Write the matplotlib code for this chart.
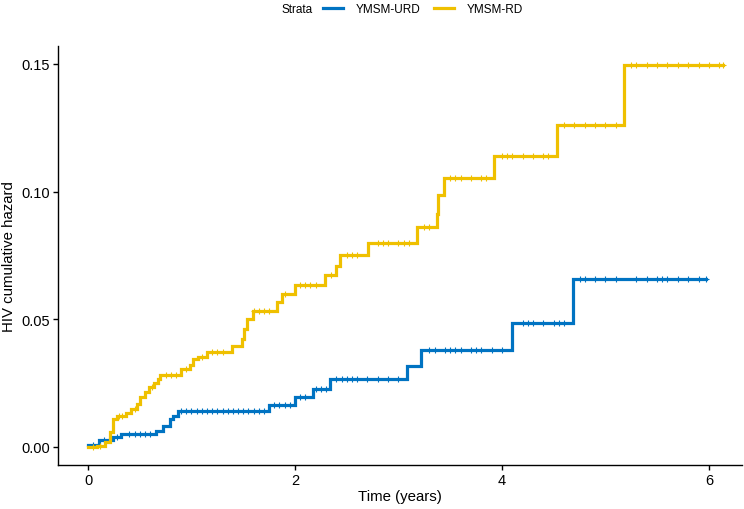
import numpy as np
import matplotlib
matplotlib.use("Agg")
import matplotlib.pyplot as plt
from matplotlib.lines import Line2D

plt.rcParams["font.family"] = ["Liberation Sans", "DejaVu Sans"]

# %% Data: step times (years) and cumulative hazard
urd_time = [0.0, 0.11, 0.24, 0.32, 0.66, 0.72, 0.79, 0.82, 0.87, 1.75, 2.00,
            2.17, 2.34, 3.08, 3.22, 4.10, 4.69]
urd_haz = [0.0008, 0.0027, 0.0039, 0.0051, 0.0063, 0.0082, 0.0110, 0.0121, 0.0141,
           0.0165, 0.0196, 0.0227, 0.0266, 0.0317, 0.0380, 0.0486, 0.0657]
urd_end = 5.97

rd_time = [0.0, 0.09, 0.16, 0.21, 0.24, 0.28, 0.37, 0.42, 0.47, 0.50, 0.55, 0.59,
           0.64, 0.68, 0.70, 0.90, 0.99, 1.01, 1.06, 1.15, 1.39, 1.49, 1.51, 1.54,
           1.59, 1.83, 1.87, 2.00, 2.29, 2.40, 2.44, 2.71, 3.18, 3.37, 3.38, 3.44,
           3.92, 4.53, 5.18]
rd_haz = [0.0, 0.0004, 0.0020, 0.0059, 0.0110, 0.0121, 0.0133, 0.0149, 0.0168,
          0.0196, 0.0215, 0.0235, 0.0251, 0.0266, 0.0282, 0.0306, 0.0321, 0.0345,
          0.0353, 0.0372, 0.0396, 0.0423, 0.0462, 0.0501, 0.0533, 0.0568, 0.0599,
          0.0633, 0.0674, 0.0709, 0.0752, 0.0799, 0.0862, 0.0913, 0.0987, 0.1054,
          0.1140, 0.1260, 0.1496]
rd_end = 6.14

# censoring ticks (approximate positions)
urd_cens = [0.05, 0.15, 0.2, 0.28, 0.4, 0.45, 0.5, 0.55, 0.6, 0.9, 0.95, 1.0, 1.05,
            1.1, 1.15, 1.2, 1.25, 1.3, 1.35, 1.4, 1.45, 1.5, 1.55, 1.6, 1.65, 1.7,
            1.8, 1.85, 1.9, 1.95, 2.05, 2.1, 2.2, 2.25, 2.3, 2.4, 2.45, 2.5, 2.55,
            2.6, 2.7, 2.8, 2.9, 3.0, 3.3, 3.35, 3.45, 3.5, 3.55, 3.6, 3.7, 3.75,
            3.8, 3.9, 4.0, 4.2, 4.25, 4.3, 4.4, 4.5, 4.55, 4.6, 4.75, 4.8, 4.9,
            5.0, 5.1, 5.3, 5.4, 5.5, 5.55, 5.6, 5.7, 5.8, 5.9, 5.97]
rd_cens = [0.05, 0.12, 0.3, 0.33, 0.45, 0.62, 0.75, 0.8, 0.85, 0.95, 1.1, 1.2, 1.25,
           1.3, 1.6, 1.65, 1.7, 1.75, 1.9, 2.05, 2.1, 2.15, 2.2, 2.35, 2.5, 2.55,
           2.6, 2.8, 2.85, 2.9, 3.0, 3.05, 3.1, 3.25, 3.3, 3.5, 3.55, 3.6, 3.7,
           3.8, 3.85, 4.0, 4.05, 4.1, 4.2, 4.3, 4.4, 4.45, 4.6, 4.7, 4.8, 4.9,
           5.0, 5.1, 5.25, 5.3, 5.4, 5.5, 5.6, 5.7, 5.8, 5.9, 6.0, 6.1, 6.14]

BLUE = "#0073C2"
YELLOW = "#EFC000"

def step_at(times, haz, t):
    idx = np.searchsorted(times, t, side="right") - 1
    return np.asarray(haz)[idx]

# %% Plot
fig = plt.figure(figsize=(7.44, 5.10), dpi=100)
ax = fig.add_axes([58/744, 1-466/510, (742-58)/744, (466-47)/510])

for times, haz, end, cens, col in [(urd_time, urd_haz, urd_end, urd_cens, BLUE),
                                   (rd_time, rd_haz, rd_end, rd_cens, YELLOW)]:
    t = list(times) + [end]
    h = list(haz) + [haz[-1]]
    ax.step(t, h, where="post", color=col, linewidth=2.3, solid_joinstyle="miter")
    ax.plot(cens, step_at(times, haz, cens), linestyle="none", marker="+",
            markersize=4, markeredgewidth=0.8, color=col)

ax.set_xlim(-0.29, 6.32)
ax.set_ylim(-0.00705, 0.157)
ax.set_xticks([0, 2, 4, 6])
ax.set_yticks([0.0, 0.05, 0.10, 0.15])
ax.set_yticklabels(["0.00", "0.05", "0.10", "0.15"])
ax.tick_params(axis="both", labelsize=10.5, length=3.5, width=1.0, colors="black",
               pad=2)
for s in ["top", "right"]:
    ax.spines[s].set_visible(False)
for s in ["left", "bottom"]:
    ax.spines[s].set_linewidth(1.0)
    ax.spines[s].set_color("black")

ax.set_xlabel("Time (years)", fontsize=10.8, labelpad=2)
ax.set_ylabel("HIV cumulative hazard", fontsize=10.8, labelpad=4)

# legend on top
fig.text(281/744, 1-10/510, "Strata", fontsize=8.5, ha="left", va="center")
handles = [Line2D([], [], color=BLUE, linewidth=2.3),
           Line2D([], [], color=YELLOW, linewidth=2.3)]
fig.legend(handles, ["YMSM-URD", "YMSM-RD"], ncol=2, frameon=False,
           loc="center left", bbox_to_anchor=(323/744, 1-10/510), fontsize=8.5,
           handlelength=1.7, handletextpad=1.1, columnspacing=1.1, borderpad=0,
           borderaxespad=0)

fig.savefig("out.png", dpi=100)
